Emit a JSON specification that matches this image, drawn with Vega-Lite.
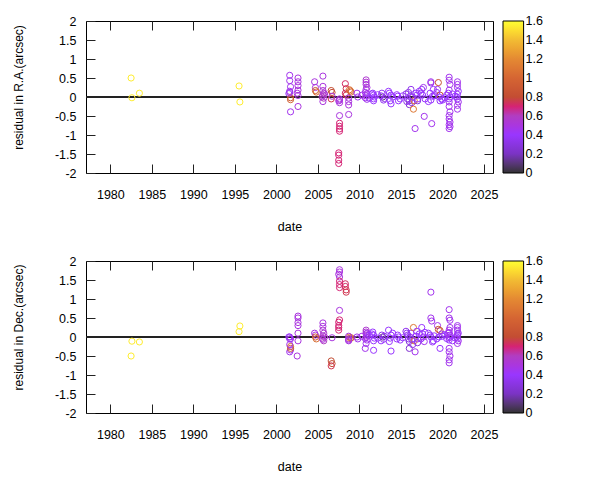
{
 "$schema": "https://vega.github.io/schema/vega-lite/v6.json",
 "padding": {"left": 11, "top": 14, "right": 5, "bottom": 5},
 "background": "white",
 "spacing": 88,
 "bounds": "flush",
 "config": {
  "view": {"stroke": "black", "strokeWidth": 1},
  "font": "Liberation Sans",
  "axis": {"grid": false, "domain": false, "tickColor": "#222222", "tickSize": -9, "tickWidth": 1,
   "labelFont": "Liberation Sans", "labelFontSize": 12.5, "labelColor": "black",
   "titleFont": "Liberation Sans", "titleFontSize": 12.5, "titleFontWeight": "normal", "titleColor": "black"},
  "legend": {"orient": "right", "offset": 9.4, "padding": 0, "gradientLength": 152, "gradientThickness": 20.6,
   "gradientStrokeColor": "black", "gradientStrokeWidth": 1, "labelOffset": 10.5, "labelFontSize": 12.5,
   "labelFont": "Liberation Sans", "labelColor": "black", "labelOverlap": false, "direction": "vertical"}
 },
 "data": {"values": [
  {"d":1982.5,"c":1.55,"ra":0.5,"dec":-0.5},
  {"d":1982.6,"c":1.55,"ra":-0.02,"dec":-0.11},
  {"d":1983.5,"c":1.55,"ra":0.1,"dec":-0.13},
  {"d":1995.5,"c":1.55,"ra":0.29,"dec":0.14},
  {"d":1995.6,"c":1.55,"ra":-0.13,"dec":0.29},
  {"d":2001.6,"c":0.45,"ra":0.57,"dec":-0.05},
  {"d":2001.6,"c":0.45,"ra":0.43,"dec":0.0},
  {"d":2001.7,"c":0.45,"ra":0.27,"dec":-0.34},
  {"d":2001.6,"c":0.45,"ra":0.15,"dec":-0.39},
  {"d":2001.5,"c":0.38,"ra":0.09,"dec":0.0},
  {"d":2001.7,"c":0.95,"ra":-0.02,"dec":-0.25},
  {"d":2001.7,"c":0.95,"ra":-0.07,"dec":-0.3},
  {"d":2001.7,"c":0.45,"ra":-0.39,"dec":-0.05},
  {"d":2001.6,"c":0.45,"ra":0.12,"dec":-0.2},
  {"d":2002.6,"c":0.5,"ra":0.5,"dec":0.55},
  {"d":2002.6,"c":0.5,"ra":0.4,"dec":0.5},
  {"d":2002.6,"c":0.5,"ra":0.3,"dec":0.38},
  {"d":2002.6,"c":0.5,"ra":0.18,"dec":0.3},
  {"d":2002.6,"c":0.5,"ra":0.04,"dec":0.1},
  {"d":2002.6,"c":0.5,"ra":-0.25,"dec":-0.1},
  {"d":2002.5,"c":0.5,"ra":0.1,"dec":-0.5},
  {"d":2004.6,"c":0.5,"ra":0.4,"dec":0.1},
  {"d":2004.7,"c":0.5,"ra":0.25,"dec":0.05},
  {"d":2004.7,"c":0.9,"ra":0.17,"dec":0.0},
  {"d":2004.8,"c":1.05,"ra":0.13,"dec":-0.05},
  {"d":2005.6,"c":0.5,"ra":0.55,"dec":0.37},
  {"d":2005.6,"c":0.5,"ra":0.28,"dec":0.28},
  {"d":2005.6,"c":0.55,"ra":0.17,"dec":0.18},
  {"d":2005.7,"c":0.55,"ra":0.1,"dec":0.1},
  {"d":2005.6,"c":0.55,"ra":0.05,"dec":0.03},
  {"d":2005.5,"c":0.6,"ra":0.0,"dec":-0.03},
  {"d":2005.7,"c":0.6,"ra":-0.03,"dec":-0.1},
  {"d":2005.6,"c":0.5,"ra":-0.12,"dec":-0.06},
  {"d":2005.8,"c":0.55,"ra":0.08,"dec":0.0},
  {"d":2006.6,"c":0.8,"ra":0.17,"dec":-0.63},
  {"d":2006.7,"c":0.8,"ra":0.12,"dec":-0.7},
  {"d":2006.6,"c":0.75,"ra":-0.05,"dec":-0.76},
  {"d":2006.7,"c":0.5,"ra":0.02,"dec":-0.02},
  {"d":2007.6,"c":0.5,"ra":-0.08,"dec":1.77},
  {"d":2007.6,"c":0.5,"ra":-0.49,"dec":1.71},
  {"d":2007.5,"c":0.5,"ra":-0.1,"dec":1.65},
  {"d":2007.6,"c":0.5,"ra":-0.05,"dec":1.58},
  {"d":2007.6,"c":0.5,"ra":-0.15,"dec":0.7},
  {"d":2007.6,"c":0.7,"ra":-0.69,"dec":1.47},
  {"d":2007.6,"c":0.7,"ra":-0.77,"dec":1.38},
  {"d":2007.6,"c":0.7,"ra":-0.84,"dec":1.3},
  {"d":2007.6,"c":0.7,"ra":-0.9,"dec":0.45},
  {"d":2007.5,"c":0.7,"ra":-1.47,"dec":0.39},
  {"d":2007.5,"c":0.7,"ra":-1.53,"dec":0.3},
  {"d":2007.5,"c":0.7,"ra":-1.66,"dec":0.25},
  {"d":2007.5,"c":0.7,"ra":-1.75,"dec":0.18},
  {"d":2008.3,"c":0.72,"ra":0.35,"dec":1.4},
  {"d":2008.3,"c":0.72,"ra":0.1,"dec":1.33},
  {"d":2008.4,"c":0.75,"ra":0.05,"dec":1.24},
  {"d":2008.4,"c":0.75,"ra":0.22,"dec":1.18},
  {"d":2008.8,"c":1.05,"ra":0.19,"dec":0.0},
  {"d":2008.9,"c":1.05,"ra":0.16,"dec":-0.04},
  {"d":2009.0,"c":1.0,"ra":0.13,"dec":-0.02},
  {"d":2008.7,"c":0.5,"ra":-0.03,"dec":-0.1},
  {"d":2008.7,"c":0.5,"ra":-0.12,"dec":-0.05},
  {"d":2008.7,"c":0.5,"ra":-0.21,"dec":0.02},
  {"d":2008.7,"c":0.5,"ra":-0.46,"dec":-0.08},
  {"d":2009.7,"c":0.45,"ra":0.1,"dec":0.0},
  {"d":2009.8,"c":0.45,"ra":0.0,"dec":-0.05},
  {"d":2010.3,"c":0.45,"ra":0.05,"dec":0.02},
  {"d":2010.8,"c":0.55,"ra":0.45,"dec":0.18},
  {"d":2010.8,"c":0.55,"ra":0.39,"dec":0.13},
  {"d":2010.8,"c":0.5,"ra":0.33,"dec":0.08},
  {"d":2010.9,"c":0.5,"ra":0.25,"dec":0.04},
  {"d":2010.8,"c":0.5,"ra":0.2,"dec":0.0},
  {"d":2010.7,"c":0.45,"ra":0.12,"dec":-0.04},
  {"d":2010.9,"c":0.45,"ra":0.08,"dec":-0.08},
  {"d":2010.8,"c":0.45,"ra":0.03,"dec":-0.17},
  {"d":2010.7,"c":0.45,"ra":-0.02,"dec":-0.3},
  {"d":2010.9,"c":0.45,"ra":-0.06,"dec":0.1},
  {"d":2011.2,"c":0.4,"ra":-0.03,"dec":0.05},
  {"d":2011.6,"c":0.4,"ra":0.1,"dec":0.13},
  {"d":2011.7,"c":0.4,"ra":0.05,"dec":0.05},
  {"d":2011.8,"c":0.4,"ra":0.0,"dec":-0.03},
  {"d":2011.7,"c":0.4,"ra":-0.05,"dec":-0.1},
  {"d":2011.7,"c":0.4,"ra":-0.1,"dec":-0.35},
  {"d":2011.5,"c":0.4,"ra":0.08,"dec":0.08},
  {"d":2012.2,"c":0.4,"ra":0.06,"dec":-0.03},
  {"d":2012.8,"c":0.1,"ra":0.0,"dec":0.0},
  {"d":2012.7,"c":0.35,"ra":0.1,"dec":0.05},
  {"d":2012.9,"c":0.35,"ra":-0.08,"dec":-0.06},
  {"d":2012.6,"c":0.4,"ra":0.03,"dec":-0.1},
  {"d":2013.0,"c":0.35,"ra":-0.04,"dec":0.02},
  {"d":2013.5,"c":0.4,"ra":0.15,"dec":0.18},
  {"d":2013.8,"c":0.4,"ra":0.05,"dec":0.05},
  {"d":2013.7,"c":0.4,"ra":-0.1,"dec":-0.03},
  {"d":2013.8,"c":0.4,"ra":-0.18,"dec":-0.37},
  {"d":2013.6,"c":0.4,"ra":0.1,"dec":-0.12},
  {"d":2014.0,"c":0.4,"ra":0.0,"dec":0.1},
  {"d":2014.6,"c":0.4,"ra":0.02,"dec":0.05},
  {"d":2014.7,"c":0.4,"ra":-0.1,"dec":0.0},
  {"d":2014.9,"c":0.4,"ra":-0.05,"dec":-0.08},
  {"d":2014.5,"c":0.4,"ra":0.06,"dec":-0.05},
  {"d":2015.2,"c":0.4,"ra":0.03,"dec":-0.02},
  {"d":2015.6,"c":0.35,"ra":0.08,"dec":0.15},
  {"d":2015.8,"c":0.35,"ra":-0.05,"dec":0.05},
  {"d":2015.9,"c":0.3,"ra":0.12,"dec":-0.05},
  {"d":2016.0,"c":0.3,"ra":-0.1,"dec":-0.12},
  {"d":2016.0,"c":0.25,"ra":-0.2,"dec":-0.3},
  {"d":2016.1,"c":0.35,"ra":0.02,"dec":0.0},
  {"d":2016.2,"c":0.35,"ra":0.2,"dec":0.1},
  {"d":2016.3,"c":0.35,"ra":-0.15,"dec":-0.07},
  {"d":2016.5,"c":1.1,"ra":-0.32,"dec":0.25},
  {"d":2016.6,"c":1.1,"ra":-0.1,"dec":-0.1},
  {"d":2016.7,"c":0.45,"ra":-0.83,"dec":-0.39},
  {"d":2016.8,"c":0.4,"ra":0.1,"dec":0.02},
  {"d":2016.9,"c":0.4,"ra":0.05,"dec":0.15},
  {"d":2017.0,"c":0.4,"ra":-0.05,"dec":-0.05},
  {"d":2017.0,"c":0.3,"ra":-0.1,"dec":-0.15},
  {"d":2017.2,"c":0.4,"ra":0.15,"dec":0.08},
  {"d":2016.4,"c":0.35,"ra":0.0,"dec":-0.2},
  {"d":2015.7,"c":0.35,"ra":-0.12,"dec":0.1},
  {"d":2017.5,"c":0.4,"ra":0.2,"dec":0.25},
  {"d":2017.6,"c":0.4,"ra":0.05,"dec":0.08},
  {"d":2017.7,"c":0.45,"ra":0.25,"dec":0.0},
  {"d":2017.8,"c":0.45,"ra":-0.51,"dec":-0.12},
  {"d":2017.9,"c":0.4,"ra":-0.05,"dec":0.12},
  {"d":2017.4,"c":0.4,"ra":0.1,"dec":-0.05},
  {"d":2018.6,"c":0.45,"ra":0.37,"dec":1.18},
  {"d":2018.6,"c":0.45,"ra":0.4,"dec":0.5},
  {"d":2018.7,"c":0.45,"ra":-0.7,"dec":0.42},
  {"d":2018.5,"c":0.4,"ra":0.1,"dec":0.05},
  {"d":2018.6,"c":0.4,"ra":-0.08,"dec":0.0},
  {"d":2018.8,"c":0.4,"ra":0.02,"dec":-0.13},
  {"d":2018.3,"c":0.4,"ra":-0.12,"dec":0.1},
  {"d":2018.9,"c":0.4,"ra":0.2,"dec":-0.1},
  {"d":2019.0,"c":0.4,"ra":0.03,"dec":0.03},
  {"d":2019.4,"c":0.45,"ra":0.2,"dec":0.3},
  {"d":2019.5,"c":0.85,"ra":0.38,"dec":0.2},
  {"d":2019.7,"c":0.85,"ra":0.05,"dec":0.17},
  {"d":2019.6,"c":0.4,"ra":0.0,"dec":0.0},
  {"d":2019.7,"c":0.4,"ra":-0.1,"dec":-0.3},
  {"d":2019.3,"c":0.4,"ra":0.12,"dec":-0.05},
  {"d":2019.9,"c":0.4,"ra":-0.05,"dec":0.08},
  {"d":2020.0,"c":0.4,"ra":-0.08,"dec":0.02},
  {"d":2020.3,"c":0.4,"ra":-0.02,"dec":0.06},
  {"d":2020.5,"c":0.4,"ra":0.05,"dec":-0.04},
  {"d":2020.8,"c":0.45,"ra":0.52,"dec":0.72},
  {"d":2020.8,"c":0.45,"ra":0.44,"dec":0.5},
  {"d":2020.9,"c":0.45,"ra":0.33,"dec":0.44},
  {"d":2020.8,"c":0.45,"ra":0.18,"dec":0.18},
  {"d":2020.7,"c":0.4,"ra":0.1,"dec":0.1},
  {"d":2020.9,"c":0.4,"ra":0.0,"dec":0.0},
  {"d":2020.8,"c":0.4,"ra":-0.05,"dec":-0.08},
  {"d":2020.8,"c":0.45,"ra":-0.13,"dec":-0.3},
  {"d":2020.8,"c":0.45,"ra":-0.25,"dec":-0.39},
  {"d":2020.9,"c":0.45,"ra":-0.39,"dec":-0.5},
  {"d":2020.8,"c":0.45,"ra":-0.49,"dec":-0.6},
  {"d":2020.8,"c":0.45,"ra":-0.58,"dec":-0.68},
  {"d":2020.9,"c":0.45,"ra":-0.66,"dec":0.05},
  {"d":2020.8,"c":0.45,"ra":-0.73,"dec":-0.02},
  {"d":2020.9,"c":0.45,"ra":-0.78,"dec":0.25},
  {"d":2020.8,"c":0.45,"ra":-0.83,"dec":0.12},
  {"d":2021.2,"c":0.4,"ra":0.08,"dec":-0.1},
  {"d":2021.5,"c":0.4,"ra":0.02,"dec":-0.02},
  {"d":2021.8,"c":0.45,"ra":0.4,"dec":0.3},
  {"d":2021.8,"c":0.45,"ra":0.33,"dec":0.25},
  {"d":2021.8,"c":0.45,"ra":0.25,"dec":0.18},
  {"d":2021.9,"c":0.4,"ra":0.15,"dec":0.1},
  {"d":2021.8,"c":0.4,"ra":0.07,"dec":0.04},
  {"d":2021.7,"c":0.4,"ra":0.0,"dec":0.0},
  {"d":2021.8,"c":0.4,"ra":-0.05,"dec":-0.05},
  {"d":2021.9,"c":0.45,"ra":-0.13,"dec":-0.1},
  {"d":2021.8,"c":0.45,"ra":-0.22,"dec":-0.17},
  {"d":2021.8,"c":0.45,"ra":-0.32,"dec":0.08}
 ]},
 "resolve": {"scale": {"color": "independent"}, "legend": {"color": "independent"}},
 "vconcat": [
  {
   "width": 407, "height": 152,
   "layer": [
    {"mark": {"type": "rule", "color": "#222222", "strokeWidth": 1},
     "encoding": {"y": {"datum": 0, "type": "quantitative", "axis": null}}},
    {"mark": {"type": "point", "shape": "circle", "filled": false, "size": 38, "strokeWidth": 1, "opacity": 1},
     "encoding": {
      "x": {"field": "d", "type": "quantitative", "scale": {"domain": [1977.07, 2026.08], "nice": false, "zero": false},
       "axis": {"orient": "bottom", "values": [1980,1985,1990,1995,2000,2005,2010,2015,2020,2025], "format": "d", "labelPadding": 24.4, "title": "date", "titleY": 53, "titleBaseline": "middle"}},
      "y": {"field": "ra", "type": "quantitative", "scale": {"domain": [-2, 2], "nice": false, "zero": false},
       "axis": {"orient": "left", "values": [-2,-1.5,-1,-0.5,0,0.5,1,1.5,2], "labelExpr": "datum.value < 0 ? '-' + format(-datum.value, '~g') : format(datum.value, '~g')", "labelPadding": 19, "title": "residual in R.A.(arcsec)", "titleFontSize": 12, "titleX": -68, "titleY": 66, "titleAlign": "center", "titleBaseline": "middle"}},
      "color": {"field": "c", "type": "quantitative",
       "scale": {"domain": [-0.003, 1.603], "nice": false, "zero": false, "range": ["#333333","#7b33c3","#9936ff","#b03dc3","#c34d33","#d56533","#e48933","#f2bc33","#ffff33"]},
       "legend": {"title": null, "values": [0,0.2,0.4,0.6,0.8,1,1.2,1.4,1.6], "labelExpr": "format(datum.value, '.1~f')"}}
     }},
    {"mark": {"type": "point", "opacity": 0},
     "encoding": {
      "x": {"field": "d", "type": "quantitative", "axis": {"orient": "top", "values": [1980,1985,1990,1995,2000,2005,2010,2015,2020,2025], "labels": false, "title": null}},
      "y": {"field": "ra", "type": "quantitative", "axis": {"orient": "right", "values": [-2,-1.5,-1,-0.5,0,0.5,1,1.5,2], "labels": false, "title": null}}
     }}
   ],
   "resolve": {"axis": {"x": "independent", "y": "independent"}}
  },
  {
   "width": 407, "height": 152,
   "layer": [
    {"mark": {"type": "rule", "color": "#222222", "strokeWidth": 1},
     "encoding": {"y": {"datum": 0, "type": "quantitative", "axis": null}}},
    {"mark": {"type": "point", "shape": "circle", "filled": false, "size": 38, "strokeWidth": 1, "opacity": 1},
     "encoding": {
      "x": {"field": "d", "type": "quantitative", "scale": {"domain": [1977.07, 2026.08], "nice": false, "zero": false},
       "axis": {"orient": "bottom", "values": [1980,1985,1990,1995,2000,2005,2010,2015,2020,2025], "format": "d", "labelPadding": 24.4, "title": "date", "titleY": 53, "titleBaseline": "middle"}},
      "y": {"field": "dec", "type": "quantitative", "scale": {"domain": [-2, 2], "nice": false, "zero": false},
       "axis": {"orient": "left", "values": [-2,-1.5,-1,-0.5,0,0.5,1,1.5,2], "labelExpr": "datum.value < 0 ? '-' + format(-datum.value, '~g') : format(datum.value, '~g')", "labelPadding": 19, "title": "residual in Dec.(arcsec)", "titleFontSize": 12, "titleX": -68, "titleY": 66, "titleAlign": "center", "titleBaseline": "middle"}},
      "color": {"field": "c", "type": "quantitative",
       "scale": {"domain": [-0.003, 1.603], "nice": false, "zero": false, "range": ["#333333","#7b33c3","#9936ff","#b03dc3","#c34d33","#d56533","#e48933","#f2bc33","#ffff33"]},
       "legend": {"title": null, "values": [0,0.2,0.4,0.6,0.8,1,1.2,1.4,1.6], "labelExpr": "format(datum.value, '.1~f')"}}
     }},
    {"mark": {"type": "point", "opacity": 0},
     "encoding": {
      "x": {"field": "d", "type": "quantitative", "axis": {"orient": "top", "values": [1980,1985,1990,1995,2000,2005,2010,2015,2020,2025], "labels": false, "title": null}},
      "y": {"field": "dec", "type": "quantitative", "axis": {"orient": "right", "values": [-2,-1.5,-1,-0.5,0,0.5,1,1.5,2], "labels": false, "title": null}}
     }}
   ],
   "resolve": {"axis": {"x": "independent", "y": "independent"}}
  }
 ]
}
